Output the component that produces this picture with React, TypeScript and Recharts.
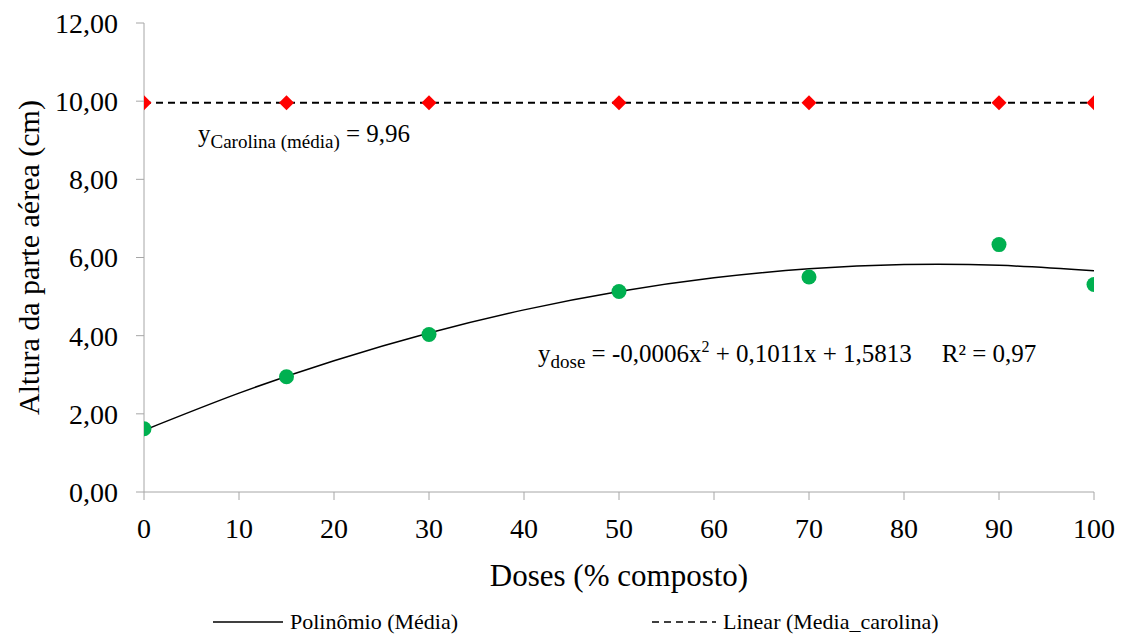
import {
  ComposedChart,
  Line,
  Scatter,
  XAxis,
  YAxis,
  Label,
} from "recharts";

// doses (% composto) for the measured points
const doses = [0, 15, 30, 50, 70, 90, 100];
// mean shoot height per dose (green points)
const alturaDose = [1.62, 2.95, 4.03, 5.13, 5.5, 6.33, 5.31];
// Carolina mean (red diamonds)
const alturaCarolina = [9.96, 9.96, 9.96, 9.96, 9.96, 9.96, 9.96];
// polynomial trend line
const curvaX = [0, 10, 20, 30, 40, 50, 60, 70, 80, 90, 100];
const curvaY = [1.58, 2.53, 3.36, 4.07, 4.66, 5.13, 5.48, 5.71, 5.82, 5.8, 5.66];

const xTicks = [0, 10, 20, 30, 40, 50, 60, 70, 80, 90, 100];
const yTicks = [0, 2, 4, 6, 8, 10, 12];

const doseData = doses.map((x, i) => ({ x, y: alturaDose[i] }));
const carolinaData = doses.map((x, i) => ({ x, y: alturaCarolina[i] }));
const curvaData = curvaX.map((x, i) => ({ x, y: curvaY[i] }));

const FONT = "Liberation Serif, DejaVu Serif, serif";
const AXIS = "#a6a6a6";

const fmt = (v: number) => v.toFixed(2).replace(".", ",");

const Circle = (props: any) => (
  <circle cx={props.cx} cy={props.cy} r={7.5} fill="#00b050" />
);

const Diamond = (props: any) => {
  const { cx, cy } = props;
  const r = 7.5;
  return (
    <polygon
      points={`${cx},${cy - r} ${cx + r},${cy} ${cx},${cy + r} ${cx - r},${cy}`}
      fill="#ff0000"
    />
  );
};

const tickStyle = { fontSize: 28, fill: "#000", fontFamily: FONT };

export default function App() {
  return (
    <div
      style={{
        position: "absolute",
        left: 0,
        top: 0,
        width: 1126,
        height: 635,
        background: "#fff",
        fontFamily: FONT,
      }}
    >
      <ComposedChart
        width={1126}
        height={635}
        margin={{ top: 23, right: 32, left: 0, bottom: 43 }}
        style={{ fontFamily: FONT }}
      >
        <XAxis
          type="number"
          dataKey="x"
          domain={[0, 100]}
          ticks={xTicks}
          allowDataOverflow
          stroke={AXIS}
          tickSize={8}
          tickMargin={18}
          height={100}
          tick={tickStyle}
        >
          <Label
            value="Doses (% composto)"
            position="insideBottom"
            offset={6}
            fontFamily={FONT}
            style={{ fontSize: 31, fill: "#000", fontFamily: FONT }}
          />
        </XAxis>
        <YAxis
          type="number"
          dataKey="y"
          domain={[0, 12]}
          ticks={yTicks}
          width={144}
          stroke={AXIS}
          tickSize={8}
          tickMargin={18}
          tickFormatter={fmt}
          tick={tickStyle}
        >
          <Label
            value="Altura da parte aérea (cm)"
            angle={-90}
            position="insideLeft"
            offset={28}
            fontFamily={FONT}
            style={{
              fontSize: 30,
              fill: "#000",
              fontFamily: FONT,
              textAnchor: "middle",
            }}
          />
        </YAxis>
        <Line
          data={carolinaData}
          dataKey="y"
          type="linear"
          stroke="#000"
          strokeWidth={2}
          strokeDasharray="7 5"
          dot={false}
          activeDot={false}
          isAnimationActive={false}
          legendType="none"
        />
        <Line
          data={curvaData}
          dataKey="y"
          type="natural"
          stroke="#000"
          strokeWidth={1.5}
          dot={false}
          activeDot={false}
          isAnimationActive={false}
          legendType="none"
        />
        <Scatter
          data={carolinaData}
          dataKey="y"
          shape={Diamond}
          isAnimationActive={false}
        />
        <Scatter
          data={doseData}
          dataKey="y"
          shape={Circle}
          isAnimationActive={false}
        />
      </ComposedChart>

      {/* equation annotations */}
      <div
        style={{
          position: "absolute",
          left: 198,
          top: 119,
          fontSize: 25,
          lineHeight: "30px",
          whiteSpace: "nowrap",
        }}
      >
        y<span style={{ fontSize: 19, position: "relative", top: 6 }}>Carolina (média)</span> = 9,96
      </div>
      <div
        style={{
          position: "absolute",
          left: 538,
          top: 339,
          fontSize: 25,
          lineHeight: "30px",
          whiteSpace: "nowrap",
        }}
      >
        y<span style={{ fontSize: 19, position: "relative", top: 6 }}>dose</span> = -0,0006x
        <span style={{ fontSize: 16, position: "relative", top: -10 }}>2</span> + 0,1011x + 1,5813
        <span style={{ marginLeft: 30 }}>R² = 0,97</span>
      </div>

      {/* legend */}
      <div
        style={{
          position: "absolute",
          left: 213,
          top: 609,
          height: 26,
          display: "flex",
          alignItems: "center",
          fontSize: 22,
          whiteSpace: "nowrap",
        }}
      >
        <svg width={70} height={4} style={{ marginRight: 7 }}>
          <line x1={0} y1={2} x2={70} y2={2} stroke="#000" strokeWidth={1.5} />
        </svg>
        <span>Polinômio (Média)</span>
        <svg width={64} height={4} style={{ marginLeft: 194, marginRight: 7 }}>
          <line
            x1={0}
            y1={2}
            x2={64}
            y2={2}
            stroke="#000"
            strokeWidth={1.5}
            strokeDasharray="7 5"
          />
        </svg>
        <span>Linear (Media_carolina)</span>
      </div>
    </div>
  );
}
